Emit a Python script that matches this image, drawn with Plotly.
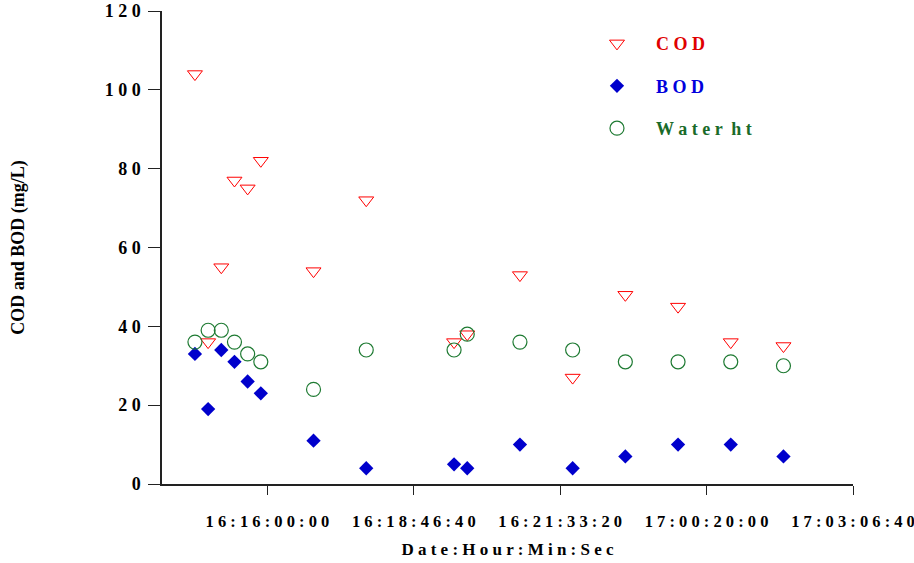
import plotly.graph_objects as go

# Sample times (day:hour:min:sec)
times = ["16:14:37:30", "16:14:52:30", "16:15:07:30", "16:15:22:30", "16:15:37:30",
         "16:15:52:30", "16:16:52:30", "16:17:52:30", "16:19:32:30", "16:19:47:30",
         "16:20:47:30", "16:21:47:30", "16:22:47:30", "16:23:47:30", "17:00:47:30",
         "17:01:47:30"]
cod = [104, 36, 55, 77, 75, 82, 54, 72, 36, 38, 53, 27, 48, 45, 36, 35]
bod = [33, 19, 34, 31, 26, 23, 11, 4, 5, 4, 10, 4, 7, 10, 10, 7]
water_ht = [36, 39, 39, 36, 33, 31, 24, 34, 34, 38, 36, 34, 31, 31, 31, 30]

x_tick_labels = ["16:16:00:00", "16:18:46:40", "16:21:33:20", "17:00:20:00", "17:03:06:40"]
y_tick_vals = [0, 20, 40, 60, 80, 100, 120]


def to_sec(t):
    d, h, m, s = [int(p) for p in t.split(":")]
    return ((d * 24 + h) * 60 + m) * 60 + s


origin = to_sec(x_tick_labels[0])
x = [to_sec(t) - origin for t in times]
x_tick_vals = [to_sec(t) - origin for t in x_tick_labels]
x_min = to_sec("16:14:00:00") - origin


def spaced(s):
    return " ".join(list(s))


FONT = "Liberation Serif, Times New Roman, serif"
RED = "#FF0000"
BLUE = "#0000CC"
GREEN = "#1E7A32"

fig = go.Figure()
fig.add_trace(go.Scatter(
    x=x, y=cod, mode="markers", legendgroup="a",
    name="<span style='color:#E00000'>C O D</span>",
    marker=dict(symbol="triangle-down-open", size=13, color=RED, line=dict(width=1, color=RED)),
))
fig.add_trace(go.Scatter(
    x=x, y=bod, mode="markers", legendgroup="b",
    name="<span style='color:#0000DD'>B O D</span>",
    marker=dict(symbol="diamond", size=11, color=BLUE, line=dict(width=0)),
))
fig.add_trace(go.Scatter(
    x=x, y=water_ht, mode="markers", legendgroup="c",
    name="<span style='color:#1A6B2A'>W a t e r  h t</span>",
    marker=dict(symbol="circle-open", size=14, color=GREEN, line=dict(width=1.2, color=GREEN)),
))

fig.update_layout(
    width=914, height=563,
    margin=dict(l=162, r=61, t=11, b=79, autoexpand=False),
    paper_bgcolor="white", plot_bgcolor="white",
    font=dict(family=FONT, size=16, color="black"),
    showlegend=True,
    legend=dict(
        x=0.602, y=0.970, xanchor="left", yanchor="top",
        font=dict(family=FONT, size=18, color="black", weight="bold"),
        bgcolor="rgba(0,0,0,0)", itemwidth=68, tracegroupgap=16,
    ),
)
fig.update_xaxes(
    automargin=False,
    range=[x_min, x_tick_vals[-1]],
    tickmode="array", tickvals=x_tick_vals,
    ticktext=[spaced(t) for t in x_tick_labels],
    ticks="outside", ticklen=9, tickwidth=1.3, tickcolor="#222",
    showline=True, linecolor="#222", linewidth=1.5,
    showgrid=False, zeroline=False,
    tickfont=dict(family=FONT, size=16.5, color="black", weight="bold"),
    ticklabelstandoff=12, ticklabeloverflow="allow",
    title=dict(text=spaced("Date:Hour:Min:Sec"), standoff=14,
               font=dict(family=FONT, size=17, color="black", weight="bold")),
)
fig.update_yaxes(
    automargin=False,
    range=[0, 120],
    tickmode="array", tickvals=y_tick_vals,
    ticktext=[spaced(str(v)) for v in y_tick_vals],
    ticks="outside", ticklen=12, tickwidth=1.3, tickcolor="#222",
    showline=True, linecolor="#222", linewidth=1.5,
    showgrid=False, zeroline=False,
    tickfont=dict(family=FONT, size=18, color="black", weight="bold"),
    ticklabelstandoff=4,
    title=dict(text="COD and BOD (mg/L)", standoff=75,
               font=dict(family=FONT, size=18, color="black", weight="bold")),
)

fig.write_html("out.html", config={"displayModeBar": False},
               post_script="document.body.style.margin='0';")
